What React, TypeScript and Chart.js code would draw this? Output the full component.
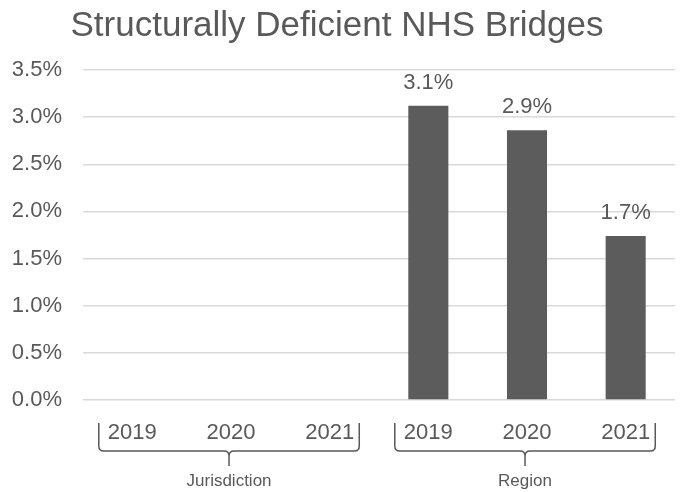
import React, { useEffect, useRef } from "react";
import { Chart, registerables } from "chart.js";

Chart.register(...registerables);

const TITLE = "Structurally Deficient NHS Bridges";
const categories = ["2019", "2020", "2021", "2019", "2020", "2021"];
const groups = ["Jurisdiction", "Region"];
const groupSize = 3;
const values: (number | null)[] = [null, null, null, 3.12, 2.86, 1.74];
const yTicksMax = 3.5;
const yStep = 0.5;

const FONT = "'Liberation Sans', Arial, sans-serif";
const TEXT = "#595959";

const overlayPlugin = {
  id: "overlay",
  afterDatasetsDraw(chart: any) {
    const ctx = chart.ctx;
    const meta = chart.getDatasetMeta(0);
    ctx.save();
    ctx.fillStyle = TEXT;
    ctx.font = `22px ${FONT}`;
    ctx.textAlign = "center";
    ctx.textBaseline = "middle";
    meta.data.forEach((el: any, i: number) => {
      const v = values[i];
      if (v == null) return;
      ctx.fillText(v.toFixed(1) + "%", el.x, el.y - 23);
    });
    ctx.restore();
  },
  afterDraw(chart: any) {
    const ctx = chart.ctx;
    const xs = chart.scales.x;
    const area = chart.chartArea;
    ctx.save();
    // title
    ctx.fillStyle = TEXT;
    ctx.font = `35px ${FONT}`;
    ctx.textAlign = "center";
    ctx.textBaseline = "middle";
    ctx.fillText(TITLE, 337, 26);
    // braces
    const spacing = xs.getPixelForValue(1) - xs.getPixelForValue(0);
    const top = area.bottom + 23;
    const bot = area.bottom + 51;
    const tip = area.bottom + 66;
    const r = 5;
    ctx.strokeStyle = TEXT;
    ctx.lineWidth = 1.5;
    groups.forEach((g, gi) => {
      const i0 = gi * groupSize;
      const i1 = i0 + groupSize - 1;
      const left = xs.getPixelForValue(i0) - 0.34 * spacing;
      const right = xs.getPixelForValue(i1) + 0.3 * spacing;
      const mid = (left + right) / 2;
      ctx.beginPath();
      ctx.moveTo(left, top);
      ctx.lineTo(left, bot - r);
      ctx.quadraticCurveTo(left, bot, left + r, bot);
      ctx.lineTo(mid - r, bot);
      ctx.quadraticCurveTo(mid, bot, mid, bot + r);
      ctx.lineTo(mid, tip);
      ctx.moveTo(mid, bot + r);
      ctx.quadraticCurveTo(mid, bot, mid + r, bot);
      ctx.lineTo(right - r, bot);
      ctx.quadraticCurveTo(right, bot, right, bot - r);
      ctx.lineTo(right, top);
      ctx.stroke();
      ctx.font = `17px ${FONT}`;
      ctx.fillText(g, mid, area.bottom + 81);
    });
    ctx.restore();
  },
};

export default function App() {
  const ref = useRef<HTMLCanvasElement>(null);
  useEffect(() => {
    if (!ref.current) return;
    const chart = new Chart(ref.current, {
      type: "bar",
      data: {
        labels: categories,
        datasets: [
          {
            data: values as any,
            backgroundColor: "#5c5c5c",
            categoryPercentage: 1,
            barPercentage: 0.406,
          },
        ],
      },
      options: {
        responsive: false,
        animation: false,
        layout: { padding: { top: 70, right: 11, left: 0, bottom: 0 } },
        plugins: {
          legend: { display: false },
          title: { display: false },
          tooltip: { enabled: false },
        },
        scales: {
          x: {
            grid: { display: false, drawTicks: false },
            border: { display: false },
            ticks: {
              color: TEXT,
              font: { family: FONT, size: 22 },
              padding: 20,
              maxRotation: 0,
            },
            afterFit: (s: any) => {
              s.height = 92;
            },
          },
          y: {
            min: 0,
            max: yTicksMax,
            grid: { color: "#d9d9d9", lineWidth: 1.5, drawTicks: false },
            border: { display: false },
            ticks: {
              stepSize: yStep,
              color: TEXT,
              font: { family: FONT, size: 22 },
              padding: 21,
              callback: (v: any) => Number(v).toFixed(1) + "%",
            },
            afterFit: (s: any) => {
              s.width = 83;
            },
          },
        },
      },
      plugins: [overlayPlugin],
    });
    return () => chart.destroy();
  }, []);
  return (
    <div style={{ position: "fixed", left: 0, top: 0, width: 686, height: 492, background: "#fff" }}>
      <canvas ref={ref} width={686} height={492} style={{ width: 686, height: 492 }} />
    </div>
  );
}
